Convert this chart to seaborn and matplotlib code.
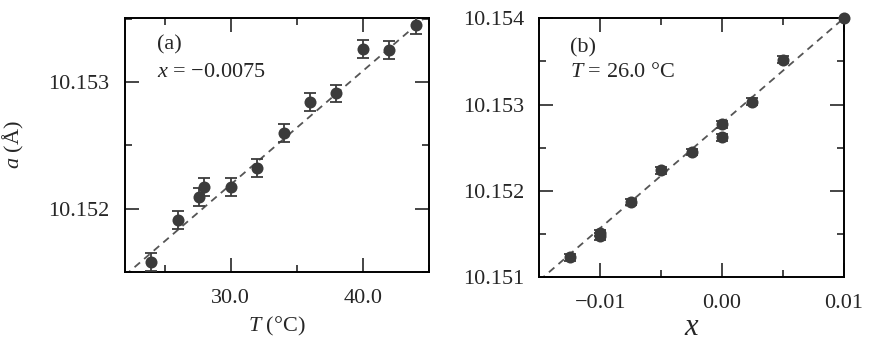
import numpy as np
import pandas as pd
import matplotlib
matplotlib.use("Agg")
import matplotlib.pyplot as plt
import seaborn as sns
from matplotlib.ticker import MultipleLocator, FuncFormatter

# panel (a): lattice constant vs temperature at x = -0.0075
temp = [24.0, 26.0, 27.6, 28.0, 30.0, 32.0, 34.0, 36.0, 38.0, 40.0, 42.0, 44.0]
a_temp = [10.15158, 10.15191, 10.15209, 10.15217, 10.15217, 10.15232,
          10.15260, 10.15284, 10.15291, 10.15326, 10.15325, 10.15345]
a_temp_err = [0.00007] * len(temp)
fit_temp = [22.0, 45.0]
fit_a_temp = [10.151473, 10.153536]

# panel (b): lattice constant vs composition at T = 26.0 C
comp = [-0.0125, -0.01, -0.01, -0.0075, -0.005, -0.0025, 0.0, 0.0, 0.0025, 0.005, 0.01]
a_comp = [10.15123, 10.15151, 10.15147, 10.15187, 10.15224, 10.15245,
          10.15277, 10.15262, 10.15303, 10.15352, 10.15400]
a_comp_err = [0.00004, 0.00004, 0.00004, 0.00004, 0.00004, 0.00004,
              0.00004, 0.00004, 0.00004, 0.00004, 0.0]
fit_comp = [-0.015, 0.01]
fit_a_comp = [10.150959, 10.154000]

sns.set_style("ticks")
plt.rcParams["font.family"] = ["Liberation Serif", "DejaVu Serif"]
plt.rcParams["mathtext.fontset"] = "custom"
plt.rcParams["mathtext.rm"] = "Liberation Serif"
plt.rcParams["mathtext.it"] = "Liberation Serif:italic"
plt.rcParams["axes.unicode_minus"] = True

dot = "#3b3b3b"
dash = "#555555"
fs = 16

fig = plt.figure(figsize=(8.72, 3.44), dpi=100)
ax1 = fig.add_axes([0.1433, 0.2093, 0.3487, 0.7384])
ax2 = fig.add_axes([0.6185, 0.1948, 0.3491, 0.7520])


def draw_panel(ax, xv, yv, err, fx, fy):
    sns.lineplot(x=fx, y=fy, ax=ax, color=dash, lw=1.3, linestyle=(0, (4, 3)))
    ax.errorbar(xv, yv, yerr=err, fmt="none", ecolor=dot, elinewidth=1.3,
                capsize=4, capthick=1.3, zorder=3)
    df = pd.DataFrame({"x": xv, "y": yv})
    sns.scatterplot(data=df, x="x", y="y", ax=ax, color=dot, s=75,
                    edgecolor=dot, linewidth=0, zorder=4, clip_on=False)
    ax.tick_params(which="both", direction="in", top=True, right=True,
                   labelsize=fs, width=1.2)
    ax.tick_params(which="major", length=10)
    ax.tick_params(axis="x", which="major", pad=12)
    ax.tick_params(axis="y", which="major", pad=11)
    ax.tick_params(which="minor", length=5)
    for s in ax.spines.values():
        s.set_linewidth(1.4)
        s.set_color("black")


def minus_fmt(fmt):
    return FuncFormatter(lambda v, p: (fmt % v).replace("-", "\u2212"))


draw_panel(ax1, temp, a_temp, a_temp_err, fit_temp, fit_a_temp)
ax1.set_xlim(22, 45)
ax1.set_ylim(10.1515, 10.153505)
ax1.xaxis.set_major_locator(MultipleLocator(10))
ax1.xaxis.set_minor_locator(MultipleLocator(5))
ax1.yaxis.set_major_locator(MultipleLocator(0.001))
ax1.yaxis.set_minor_locator(MultipleLocator(0.0005))
ax1.xaxis.set_major_formatter(minus_fmt("%.1f"))
ax1.yaxis.set_major_formatter(minus_fmt("%.3f"))
ax1.set_xlabel(r"$T$ (°C)", fontsize=fs, labelpad=5)
ax1.set_ylabel(r"$a$ (Å)", fontsize=fs)
ax1.yaxis.set_label_coords(-0.325, 0.5)
ax1.text(0.105, 0.894, "(a)", transform=ax1.transAxes, fontsize=fs, va="center")
ax1.text(0.105, 0.787, "$x$ = \u22120.0075", transform=ax1.transAxes, fontsize=fs, va="center")

draw_panel(ax2, comp, a_comp, a_comp_err, fit_comp, fit_a_comp)
ax2.set_xlim(-0.015, 0.01)
ax2.set_ylim(10.151, 10.154)
ax2.xaxis.set_major_locator(MultipleLocator(0.01))
ax2.xaxis.set_minor_locator(MultipleLocator(0.005))
ax2.yaxis.set_major_locator(MultipleLocator(0.001))
ax2.yaxis.set_minor_locator(MultipleLocator(0.0005))
ax2.xaxis.set_major_formatter(minus_fmt("%.2f"))
ax2.yaxis.set_major_formatter(minus_fmt("%.3f"))
ax2.set_xlabel(r"$x$", fontsize=22, labelpad=0)
ax2.set_ylabel("")
ax2.text(0.10, 0.885, "(b)", transform=ax2.transAxes, fontsize=fs, va="center")
ax2.text(0.10, 0.789, "$T$ = 26.0 °C", transform=ax2.transAxes, fontsize=fs, va="center")

fig.savefig("out.png", dpi=100)
